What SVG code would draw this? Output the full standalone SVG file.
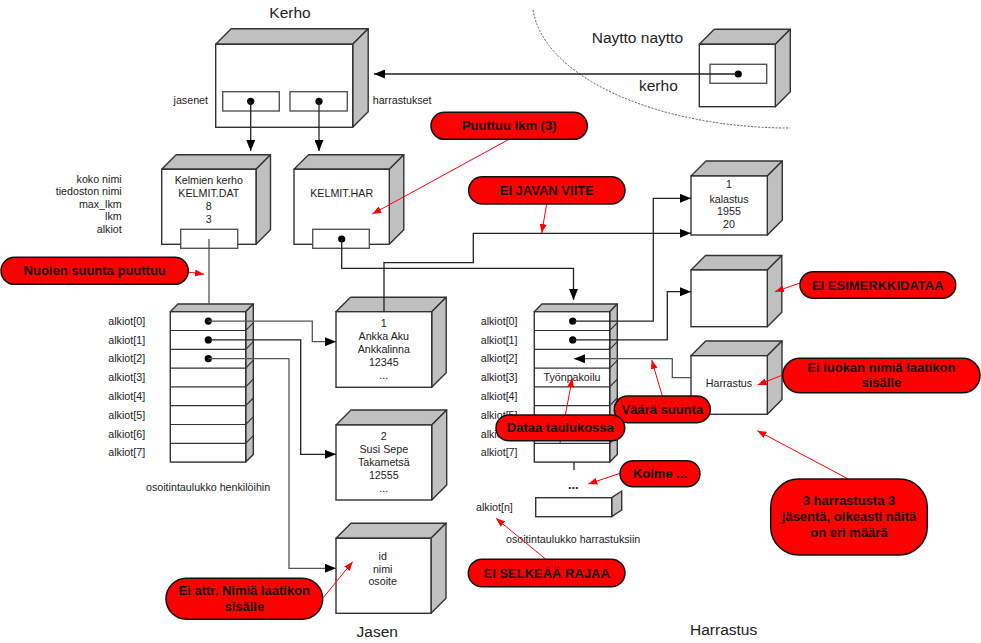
<svg xmlns="http://www.w3.org/2000/svg" width="981" height="643" viewBox="0 0 981 643">
  <style>
    text { font-family: "Liberation Sans", Arial, sans-serif; fill: #222; }
    .lbl { font-size: 10.7px; }
    .mid { text-anchor: middle; }
    .end { text-anchor: end; }
    .title { font-size: 15.5px; }
    .front { fill: #fff; stroke: #333; stroke-width: 1.4; }
    .shade { fill: #c0c0c0; stroke: #333; stroke-width: 1.4; stroke-linejoin: round; }
    .slot { fill: #fff; stroke: #555; stroke-width: 1.4; }
    .row { fill: none; stroke: #333; stroke-width: 1.2; }
    .dot { fill: #000; }
    .conn { fill: none; stroke: #222; stroke-width: 1.3; }
    .arr { marker-end: url(#head); }
    .gray { stroke: #555; }
    .arc { fill: none; stroke: #555; stroke-width: 1; stroke-dasharray: 2 1.5; }
    .note { fill: #f00; stroke: #111; stroke-width: 1.5; }
    .notet { font-size: 13px; font-weight: bold; fill: #111; text-anchor: middle; }
    .ptr { fill: none; stroke: #f00; stroke-width: 1; marker-end: url(#redhead); }
  </style>
  <defs>
    <marker id="head" markerUnits="userSpaceOnUse" markerWidth="11" markerHeight="9" refX="11" refY="4.5" orient="auto">
      <path d="M0,0 L11,4.5 L0,9 z" fill="#000"/>
    </marker>
    <marker id="redhead" markerUnits="userSpaceOnUse" markerWidth="9" markerHeight="7" refX="9" refY="3.5" orient="auto">
      <path d="M0,0 L9,3.5 L0,7 z" fill="#f00"/>
    </marker>
  </defs>

  <rect width="981" height="643" fill="#fff"/>

  <!-- boundary of the user interface side -->
  <path class="arc" d="M533,10 A258,128 0 0 0 790,128"/>

  <!-- titles -->
  <text class="title mid" x="290" y="17.5">Kerho</text>
  <text class="title" x="591.7" y="43">Naytto naytto</text>
  <text class="title" x="639" y="91">kerho</text>
  <text class="title mid" x="377.3" y="637">Jasen</text>
  <text class="title" x="690" y="635">Harrastus</text>

  <!-- Kerho object -->
  <g id="kerho">
    <polygon class="shade" points="215.7,44.3 231.2,28.8 368.2,28.8 352.7,44.3"/>
    <polygon class="shade" points="352.7,44.3 368.2,28.8 368.2,111.8 352.7,127.3"/>
    <rect class="front" x="215.7" y="44.3" width="137" height="83"/>
    <rect class="slot" x="222.7" y="91.7" width="56.6" height="19.3"/>
    <rect class="slot" x="290" y="91.7" width="57.3" height="19.3"/>
    <circle class="dot" cx="250.7" cy="101.3" r="3.6"/>
    <circle class="dot" cx="319" cy="101.3" r="3.6"/>
    <text class="lbl end" x="208" y="104">jasenet</text>
    <text class="lbl" x="372.7" y="104">harrastukset</text>
  </g>

  <!-- Naytto object -->
  <g id="naytto">
    <polygon class="shade" points="699.3,44.3 714.3,29.3 790.3,29.3 775.3,44.3"/>
    <polygon class="shade" points="775.3,44.3 790.3,29.3 790.3,91.7 775.3,106.7"/>
    <rect class="front" x="699.3" y="44.3" width="76" height="62.4"/>
    <rect class="slot" x="710" y="64.3" width="56.7" height="19"/>
    <circle class="dot" cx="738.3" cy="74" r="3.6"/>
  </g>

  <!-- Jasenet collection -->
  <g id="jasenet">
    <polygon class="shade" points="161.7,169.3 176.2,154.8 270.5,154.8 256,169.3"/>
    <polygon class="shade" points="256,169.3 270.5,154.8 270.5,229.8 256,244.3"/>
    <rect class="front" x="161.7" y="169.3" width="94.3" height="75"/>
    <rect class="slot" x="180.7" y="229.3" width="57" height="19"/>
    <text class="lbl mid" x="208.8" y="184.4">Kelmien kerho</text>
    <text class="lbl mid" x="208.8" y="197">KELMIT.DAT</text>
    <text class="lbl mid" x="208.8" y="210.4">8</text>
    <text class="lbl mid" x="208.8" y="223">3</text>
    <text class="lbl end" x="121.7" y="183">koko nimi</text>
    <text class="lbl end" x="121.7" y="195.4">tiedoston nimi</text>
    <text class="lbl end" x="121.7" y="208">max_lkm</text>
    <text class="lbl end" x="121.7" y="220.4">lkm</text>
    <text class="lbl end" x="121.7" y="233">alkiot</text>
  </g>

  <!-- Harrastukset collection -->
  <g id="harrastukset">
    <polygon class="shade" points="294,169.3 308.5,154.8 403.8,154.8 389.3,169.3"/>
    <polygon class="shade" points="389.3,169.3 403.8,154.8 403.8,229.8 389.3,244.3"/>
    <rect class="front" x="294" y="169.3" width="95.3" height="75"/>
    <rect class="slot" x="312.7" y="229.3" width="56.6" height="19"/>
    <circle class="dot" cx="341.7" cy="239" r="3.6"/>
    <text class="lbl mid" x="341.7" y="197">KELMIT.HAR</text>
  </g>

  <!-- pointer array to members -->
  <g id="jasen-taulukko">
    <polygon class="shade" points="170.3,311.7 177.9,304 253.3,304 245.7,311.7"/>
    <polygon class="shade" points="245.7,311.7 253.3,304 253.3,454.4 245.7,462.1"/>
    <rect class="front" x="170.3" y="311.7" width="75.4" height="150.4"/>
    <path class="row" d="M170.3,330.5 H245.7 L253.3,322.8 M170.3,349.3 H245.7 L253.3,341.6 M170.3,368.1 H245.7 L253.3,360.4 M170.3,386.9 H245.7 L253.3,379.2 M170.3,405.7 H245.7 L253.3,398 M170.3,424.5 H245.7 L253.3,416.8 M170.3,443.3 H245.7 L253.3,435.6"/>
    <circle class="dot" cx="208.3" cy="321.1" r="3.6"/>
    <circle class="dot" cx="208.3" cy="339.9" r="3.6"/>
    <circle class="dot" cx="208.3" cy="358.7" r="3.6"/>
    <text class="lbl" x="108.3" y="324.8">alkiot[0]</text>
    <text class="lbl" x="108.3" y="343.6">alkiot[1]</text>
    <text class="lbl" x="108.3" y="362.4">alkiot[2]</text>
    <text class="lbl" x="108.3" y="381.2">alkiot[3]</text>
    <text class="lbl" x="108.3" y="400">alkiot[4]</text>
    <text class="lbl" x="108.3" y="418.8">alkiot[5]</text>
    <text class="lbl" x="108.3" y="437.6">alkiot[6]</text>
    <text class="lbl" x="108.3" y="456.4">alkiot[7]</text>
    <text class="lbl" x="146" y="491">osoitintaulukko henkilöihin</text>
  </g>

  <!-- pointer array to hobbies -->
  <g id="harrastus-taulukko">
    <polygon class="shade" points="534.3,311.7 541.9,304 617.3,304 609.7,311.7"/>
    <polygon class="shade" points="609.7,311.7 617.3,304 617.3,454.4 609.7,462.1"/>
    <rect class="front" x="534.3" y="311.7" width="75.4" height="150.4"/>
    <path class="row" d="M534.3,330.5 H609.7 L617.3,322.8 M534.3,349.3 H609.7 L617.3,341.6 M534.3,368.1 H609.7 L617.3,360.4 M534.3,386.9 H609.7 L617.3,379.2 M534.3,405.7 H609.7 L617.3,398 M534.3,424.5 H609.7 L617.3,416.8 M534.3,443.3 H609.7 L617.3,435.6"/>
    <circle class="dot" cx="572.7" cy="321.1" r="3.6"/>
    <circle class="dot" cx="572.7" cy="339.9" r="3.6"/>
    <text class="lbl mid" x="572" y="381.2">Työnpakoilu</text>
    <text class="lbl" x="480.7" y="324.8">alkiot[0]</text>
    <text class="lbl" x="480.7" y="343.6">alkiot[1]</text>
    <text class="lbl" x="480.7" y="362.4">alkiot[2]</text>
    <text class="lbl" x="480.7" y="381.2">alkiot[3]</text>
    <text class="lbl" x="480.7" y="400">alkiot[4]</text>
    <text class="lbl" x="480.7" y="418.8">alkiot[5]</text>
    <text class="lbl" x="480.7" y="437.6">alkiot[6]</text>
    <text class="lbl" x="480.7" y="456.4">alkiot[7]</text>
    <text x="573.3" y="489" style="font-size:13px;font-weight:bold" text-anchor="middle">...</text>
    <polygon class="shade" points="611.7,497.7 621.7,491 621.7,510 611.7,516.7"/>
    <rect class="front" x="535.7" y="497.7" width="76" height="19"/>
    <text class="lbl" x="476" y="511">alkiot[n]</text>
    <text class="lbl" x="506" y="543">osoitintaulukko harrastuksiin</text>
  </g>

  <!-- member objects -->
  <g id="jasen-1">
    <polygon class="shade" points="336,311.7 350.5,297.2 446.2,297.2 431.7,311.7"/>
    <polygon class="shade" points="431.7,311.7 446.2,297.2 446.2,372.8 431.7,387.3"/>
    <rect class="front" x="336" y="311.7" width="95.7" height="75.6"/>
    <text class="lbl mid" x="383.8" y="327.3">1</text>
    <text class="lbl mid" x="383.8" y="340.3">Ankka Aku</text>
    <text class="lbl mid" x="383.8" y="353.3">Ankkalinna</text>
    <text class="lbl mid" x="383.8" y="366.3">12345</text>
    <text class="lbl mid" x="383.8" y="379.3">...</text>
  </g>
  <g id="jasen-2">
    <polygon class="shade" points="336,425 351,410 446.7,410 431.7,425"/>
    <polygon class="shade" points="431.7,425 446.7,410 446.7,485 431.7,500"/>
    <rect class="front" x="336" y="425" width="95.7" height="75"/>
    <text class="lbl mid" x="383.8" y="439.8">2</text>
    <text class="lbl mid" x="383.8" y="452.8">Susi Sepe</text>
    <text class="lbl mid" x="383.8" y="465.8">Takametsä</text>
    <text class="lbl mid" x="383.8" y="478.8">12555</text>
    <text class="lbl mid" x="383.8" y="491.8">...</text>
  </g>
  <g id="jasen-luokka">
    <polygon class="shade" points="336,538.3 351,523.3 446,523.3 431,538.3"/>
    <polygon class="shade" points="431,538.3 446,523.3 446,598.3 431,613.3"/>
    <rect class="front" x="336" y="538.3" width="95" height="75"/>
    <text class="lbl mid" x="382.7" y="559.8">id</text>
    <text class="lbl mid" x="382.7" y="573">nimi</text>
    <text class="lbl mid" x="382.7" y="584.8">osoite</text>
  </g>

  <!-- hobby objects -->
  <g id="harrastus-1">
    <polygon class="shade" points="691,176 706,161 782.3,161 767.3,176"/>
    <polygon class="shade" points="767.3,176 782.3,161 782.3,220 767.3,235"/>
    <rect class="front" x="691" y="176" width="76.3" height="59"/>
    <text class="lbl mid" x="729" y="188">1</text>
    <text class="lbl mid" x="729" y="202.7">kalastus</text>
    <text class="lbl mid" x="729" y="215.4">1955</text>
    <text class="lbl mid" x="729" y="227.8">20</text>
  </g>
  <g id="harrastus-2">
    <polygon class="shade" points="691,270 705.5,255.5 781.8,255.5 767.3,270"/>
    <polygon class="shade" points="767.3,270 781.8,255.5 781.8,312.2 767.3,326.7"/>
    <rect class="front" x="691" y="270" width="76.3" height="56.7"/>
  </g>
  <g id="harrastus-luokka">
    <polygon class="shade" points="691,355.7 705.7,341 782,341 767.3,355.7"/>
    <polygon class="shade" points="767.3,355.7 782,341 782,399.6 767.3,414.3"/>
    <rect class="front" x="691" y="355.7" width="76.3" height="58.6"/>
    <text class="lbl mid" x="729" y="387">Harrastus</text>
  </g>

  <!-- references between objects -->
  <g id="connectors">
    <path class="conn arr" d="M250.7,101.3 V151"/>
    <path class="conn arr" d="M319,101.3 V151"/>
    <path class="conn arr" d="M738.3,74 H374"/>
    <path class="conn gray" d="M209,239 V304"/>
    <path class="conn arr" d="M341.7,239 V268.3 H573.5 V300"/>
    <path class="conn arr" d="M384,311.7 V262.7 H473.3 V233.3 H691"/>
    <path class="conn arr gray" d="M208.3,321.1 H312.3 V341.7 H336"/>
    <path class="conn arr" d="M208.3,339.9 H300.7 V454.3 H336"/>
    <path class="conn arr gray" d="M208.3,358.7 H289 V568.3 H336"/>
    <path class="conn arr" d="M572.7,321.1 H653.3 V198.3 H691"/>
    <path class="conn arr" d="M572.7,339.9 H667.3 V291.7 H691"/>
    <path class="conn arr gray" d="M691,377.7 H672.3 V358.7 H574"/>
    <path class="conn" d="M574,462.1 V470"/>
  </g>

  <!-- review remarks: pointers -->
  <g id="remark-pointers">
    <path class="ptr" d="M188.3,272 L204,274.3"/>
    <path class="ptr" d="M509,139.3 L372.3,214"/>
    <path class="ptr" d="M546.7,204 L541.7,233"/>
    <path class="ptr" d="M800,283 L775,291.7"/>
    <path class="ptr" d="M782.7,375 L757.7,385"/>
    <path class="ptr" d="M662.3,396 L651.7,360"/>
    <path class="ptr" d="M560,443 L572.3,378.3"/>
    <path class="ptr" d="M620,473.3 L588.3,484"/>
    <path class="ptr" d="M546.7,560 L496,518.3"/>
    <path class="ptr" d="M322.7,598.3 L352.7,561.7"/>
    <path class="ptr" d="M848.3,479 L757.3,430.7"/>
  </g>

  <!-- review remarks -->
  <g id="remark-nuolen-suunta">
    <rect class="note" x="1" y="257.3" width="187.3" height="27" rx="13.5"/>
    <text class="notet" x="94.7" y="275.4">Nuolen suunta puuttuu</text>
  </g>
  <g id="remark-puuttuu-lkm">
    <rect class="note" x="431" y="112.3" width="156.3" height="27" rx="13.5"/>
    <text class="notet" x="509.2" y="130.4">Puuttuu lkm (3)</text>
  </g>
  <g id="remark-javan-viite">
    <rect class="note" x="468.7" y="176.7" width="156.3" height="27.3" rx="13.6"/>
    <text class="notet" x="546.8" y="194.9">EI JAVAN VIITE</text>
  </g>
  <g id="remark-esimerkkidata">
    <rect class="note" x="800" y="271.7" width="155.7" height="26.6" rx="13.3"/>
    <text class="notet" x="877.8" y="289.6">EI ESIMERKKIDATAA</text>
  </g>
  <g id="remark-luokan-nimi">
    <rect class="note" x="782.7" y="358.3" width="197.3" height="34.4" rx="17.2"/>
    <text class="notet" x="881.3" y="371.6">Ei luokan nimiä laatikon</text>
    <text class="notet" x="881.3" y="386.9">sisälle</text>
  </g>
  <g id="remark-vaara-suunta">
    <rect class="note" x="614.3" y="396" width="96" height="26.7" rx="13.3"/>
    <text class="notet" x="662.3" y="413.9">Väärä suunta</text>
  </g>
  <g id="remark-dataa">
    <rect class="note" x="496" y="415" width="128.7" height="25.7" rx="12.8"/>
    <text class="notet" x="560.3" y="432.4">Dataa taulukossa</text>
  </g>
  <g id="remark-kolme">
    <rect class="note" x="620" y="460.7" width="80" height="26" rx="13"/>
    <text class="notet" x="660" y="478.3">Kolme ...</text>
  </g>
  <g id="remark-raja">
    <rect class="note" x="468.3" y="559.3" width="156.7" height="27.4" rx="13.7"/>
    <text class="notet" x="546.7" y="577.6">EI SELKEÄÄ RAJAA</text>
  </g>
  <g id="remark-attr">
    <rect class="note" x="166" y="578.3" width="156.7" height="41" rx="20.5"/>
    <text class="notet" x="244.3" y="594.6">Ei attr. Nimiä laatikon</text>
    <text class="notet" x="244.3" y="610.6">sisälle</text>
  </g>
  <g id="remark-maara">
    <rect class="note" x="770.7" y="479" width="156.6" height="76" rx="28"/>
    <text class="notet" x="849" y="504.6">3 harrastusta 3</text>
    <text class="notet" x="849" y="521.3">jäsentä, oikeasti näitä</text>
    <text class="notet" x="849" y="537.3">on eri määrä</text>
  </g>
</svg>
